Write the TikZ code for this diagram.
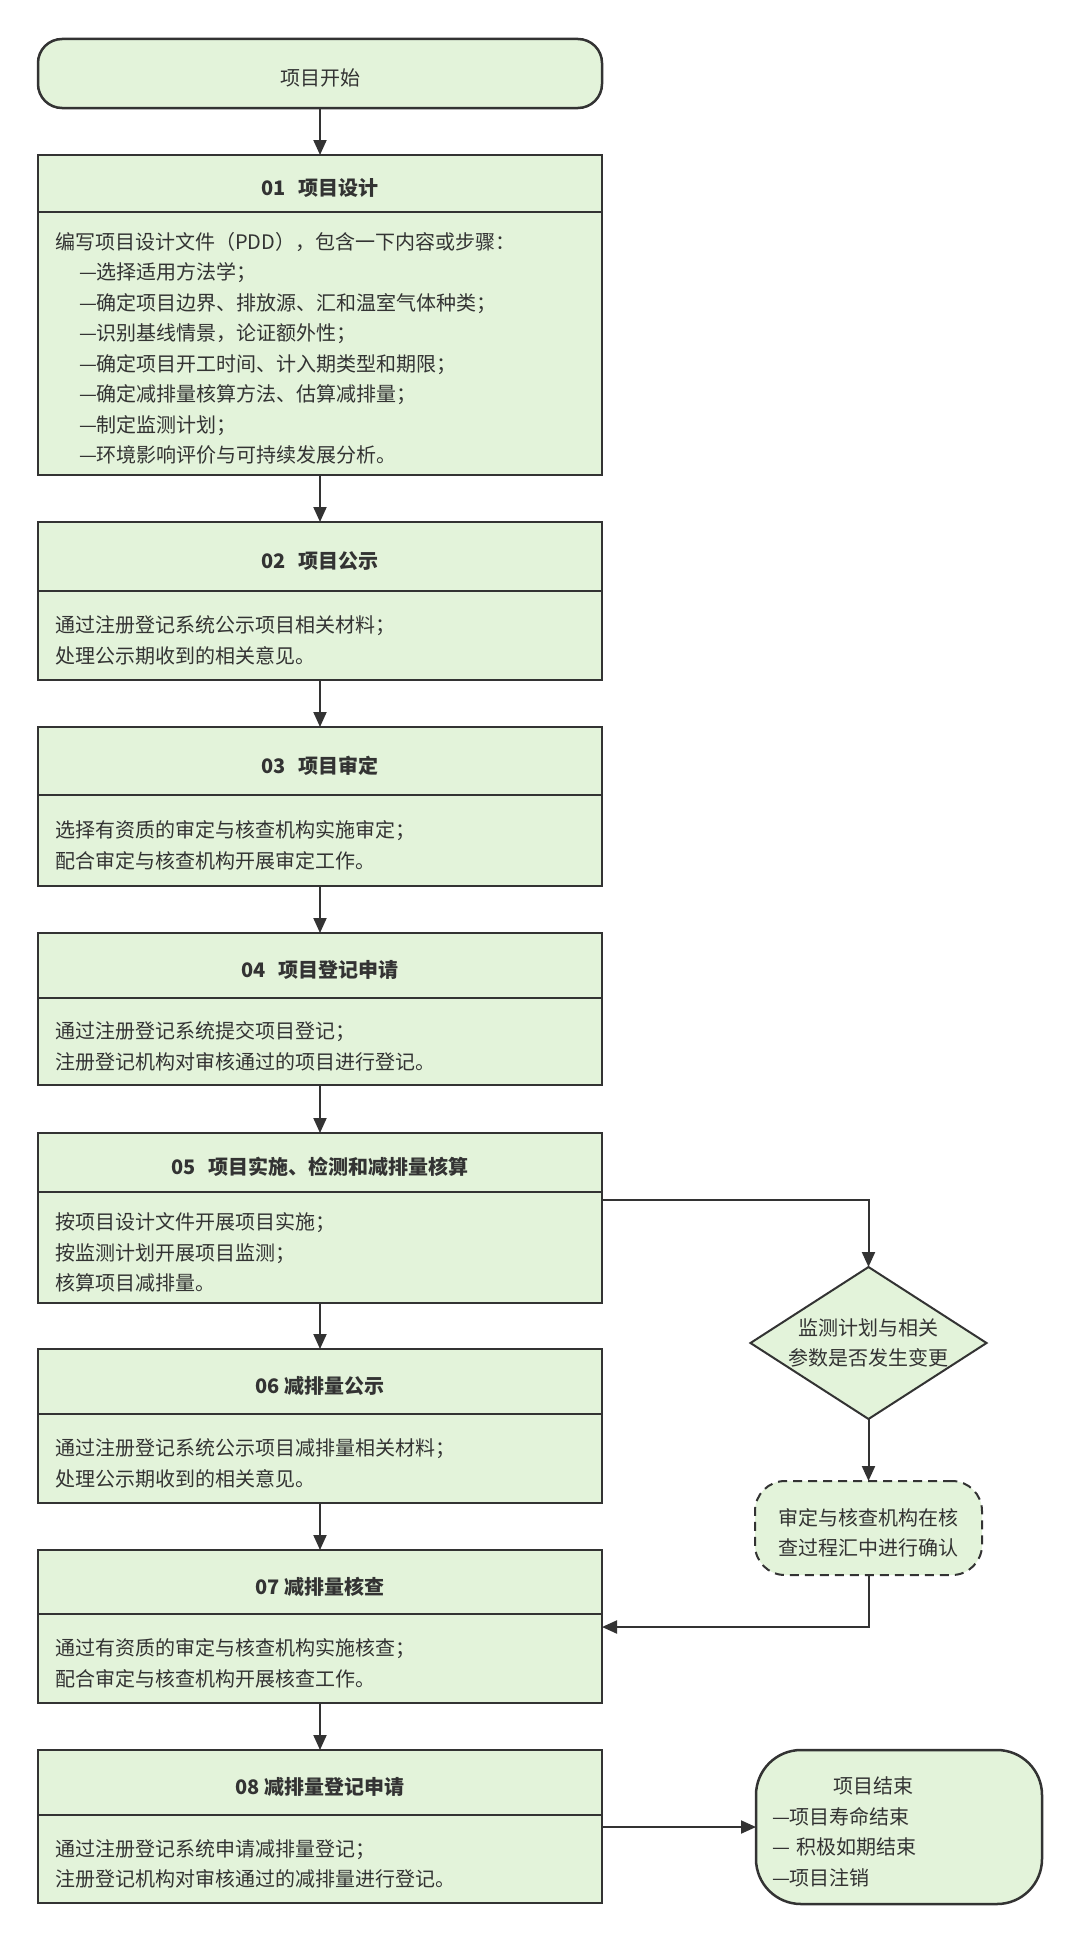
\documentclass[tikz,border=0pt]{standalone}
\usepackage{fontspec}
\setmainfont{Noto Sans CJK SC}
\usetikzlibrary{arrows.meta,shapes.geometric}
\definecolor{fc}{HTML}{E3F3DA}
\definecolor{lc}{HTML}{333333}
\definecolor{tc}{HTML}{333333}
\newcommand\tstrut{\rule{0pt}{27pt}}
\newcommand\ind{\hspace*{24pt}}
\newcommand\tgap{\hspace{13pt}}
\begin{document}
\begin{tikzpicture}[x=1pt,y=-1pt,
  every node/.style={text=tc, font=\fontsize{20pt}{30.5pt}\selectfont, outer sep=0pt},
  startnode/.style={draw=lc, fill=fc, line width=2.5pt, rounded corners=24pt,
    minimum width=564pt, minimum height=69pt, text height=26pt, text depth=2pt, inner sep=0pt},
  head/.style={draw=lc, fill=fc, line width=2.5pt, minimum width=564pt,
    text height=26pt, text depth=2pt, inner sep=0pt,
    font=\fontsize{20pt}{30.5pt}\selectfont\bfseries, anchor=north},
  body/.style={draw=lc, fill=fc, line width=2.5pt, text width=530pt,
    inner xsep=17pt, inner ysep=0pt, align=left, anchor=north},
  dia/.style={diamond, aspect=1.553, draw=lc, fill=fc, line width=2pt,
    minimum width=233pt, minimum height=150pt, inner sep=0pt, align=center},
  confbox/.style={rectangle, rounded corners=30pt, draw=lc, fill=fc, line width=2pt,
    dash pattern=on 9pt off 6pt, minimum width=227pt, minimum height=94pt,
    inner sep=0pt, align=center},
  endbox/.style={rectangle, rounded corners=45pt, draw=lc, fill=fc, line width=2.5pt,
    minimum width=286pt, minimum height=154pt, text width=254pt, inner xsep=16pt,
    inner ysep=0pt, align=left},
  arr/.style={draw=lc, line width=2pt, -{Triangle[length=15pt,width=13pt]}}
]
\useasboundingbox (0,0) rectangle (1080,1943);

\node[startnode] (start) at (320,73.5) {项目开始};

\node[head, minimum height=57pt] (h1) at (320,155) {01\tgap 项目设计};
\node[body, minimum height=263pt] (b1) at (h1.south) {\tstrut 编写项目设计文件（PDD），包含一下内容或步骤：\\
\ind —选择适用方法学；\\
\ind —确定项目边界、排放源、汇和温室气体种类；\\
\ind —识别基线情景，论证额外性；\\
\ind —确定项目开工时间、计入期类型和期限；\\
\ind —确定减排量核算方法、估算减排量；\\
\ind —制定监测计划；\\
\ind —环境影响评价与可持续发展分析。};

\node[head, minimum height=69pt] (h2) at (320,522) {02\tgap 项目公示};
\node[body, minimum height=89pt] (b2) at (h2.south) {\tstrut 通过注册登记系统公示项目相关材料；\\
处理公示期收到的相关意见。};

\node[head, minimum height=68pt] (h3) at (320,727) {03\tgap 项目审定};
\node[body, minimum height=91pt] (b3) at (h3.south) {\tstrut 选择有资质的审定与核查机构实施审定；\\
配合审定与核查机构开展审定工作。};

\node[head, minimum height=65pt] (h4) at (320,933) {04\tgap 项目登记申请};
\node[body, minimum height=87pt] (b4) at (h4.south) {\tstrut 通过注册登记系统提交项目登记；\\
注册登记机构对审核通过的项目进行登记。};

\node[head, minimum height=59pt] (h5) at (320,1133) {05\tgap 项目实施、检测和减排量核算};
\node[body, minimum height=111pt] (b5) at (h5.south) {\tstrut 按项目设计文件开展项目实施；\\
按监测计划开展项目监测；\\
核算项目减排量。};

\node[head, minimum height=65pt] (h6) at (320,1349) {06 减排量公示};
\node[body, minimum height=89pt] (b6) at (h6.south) {\tstrut 通过注册登记系统公示项目减排量相关材料；\\
处理公示期收到的相关意见。};

\node[head, minimum height=64pt] (h7) at (320,1550) {07 减排量核查};
\node[body, minimum height=89pt] (b7) at (h7.south) {\tstrut 通过有资质的审定与核查机构实施核查；\\
配合审定与核查机构开展核查工作。};

\node[head, minimum height=65pt] (h8) at (320,1750) {08 减排量登记申请};
\node[body, minimum height=88pt] (b8) at (h8.south) {\tstrut 通过注册登记系统申请减排量登记；\\
注册登记机构对审核通过的减排量进行登记。};

\node[dia] (dia) at (868.5,1343) {监测计划与相关\\参数是否发生变更};
\node[confbox] (conf) at (868.5,1528) {\tstrut 审定与核查机构在核\\查过程汇中进行确认};
\node[endbox] (endn) at (899,1827) {\tstrut\hspace*{61pt}项目结束\\
—项目寿命结束\\
— 积极如期结束\\
—项目注销};

\draw[arr] (start.south) -- (h1.north);
\draw[arr] (b1.south) -- (h2.north);
\draw[arr] (b2.south) -- (h3.north);
\draw[arr] (b3.south) -- (h4.north);
\draw[arr] (b4.south) -- (h5.north);
\draw[arr] (b5.south) -- (h6.north);
\draw[arr] (b6.south) -- (h7.north);
\draw[arr] (b7.south) -- (h8.north);
\draw[arr] ([yshift=-8pt]b5.north east) -| (dia.north);
\draw[arr] (dia.south) -- (conf.north);
\draw[arr] (conf.south) |- ([yshift=-13pt]b7.north east);
\draw[arr] (b8.east |- endn.west) -- (endn.west);
\end{tikzpicture}
\end{document}
